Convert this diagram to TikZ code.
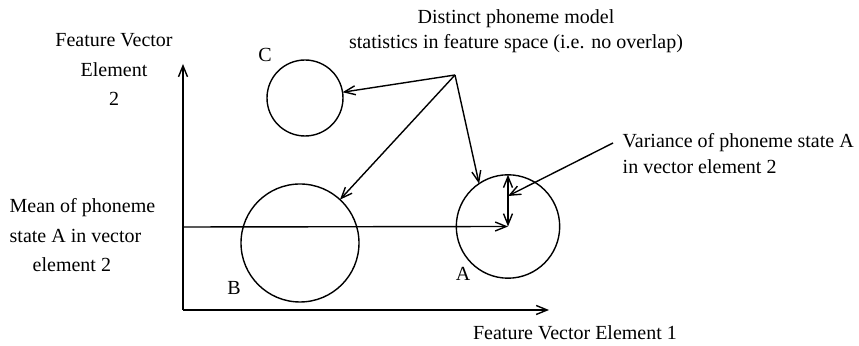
\documentclass[tikz,border=0pt]{standalone}
\usepackage{fontspec}
\setmainfont{Liberation Serif}
\usetikzlibrary{arrows.meta,positioning}

\begin{document}
\begin{tikzpicture}[
    x=0.5pt, y=-0.5pt,
    line width=0.7pt,
    every node/.style={font=\fontsize{10}{14.75}\selectfont},
    model/.style={circle, draw, inner sep=0pt, outer sep=0pt},
    txt/.style={inner sep=0pt},
    tight/.style={font=\fontsize{10}{13}\selectfont},
    arr/.style={-{Straight Barb[length=5.5pt,width=4.5pt]}},
    darr/.style={{Straight Barb[length=5.5pt,width=4.5pt]}-{Straight Barb[length=5.5pt,width=4.5pt]}}
  ]
  \useasboundingbox (0,0) rectangle (859,346);

  %% Axes
  \coordinate (o) at (183,310);
  \coordinate (ytip) at (183,64);
  \coordinate (xtip) at (549,310);
  \draw[arr] (o) -- (ytip);
  \draw[arr] (o) -- (xtip);

  %% Phoneme model circles (minimum size = radius in px)
  \node[model, minimum size=38pt] (C) at (305,98) {};
  \node[model, minimum size=59pt] (B) at (300,243) {};
  \node[model, minimum size=51.7pt] (A) at (508,226.5) {};

  %% Circle letters
  \node[txt] (labC) at (265,55) {C};
  \node[txt] (labB) at (234,288) {B};
  \node[txt] (labA) at (463,274) {A};

  %% Texts (base = last line)
  \node[txt, align=center, anchor=base, font=\fontsize{10}{12.5}\selectfont] (title) at (516,49)
    {Distinct phoneme model\\statistics in feature space (i.e. no overlap)};
  \node[txt, align=center, anchor=base] (ylab) at (114,106)
    {Feature Vector\\Element\\2};
  \node[txt, align=left, anchor=base west] (mean) at (9,272)
    {Mean of phoneme\\state A in vector\\\hspace*{11.5pt}element 2};
  \node[txt, tight, align=left, anchor=base west] (var) at (622,174)
    {Variance of phoneme state A\\in vector element 2};
  \node[txt, anchor=base] (xlab) at (575,340) {Feature Vector Element 1};

  %% Mean and variance of A
  \coordinate (mstart) at (183,227);
  \draw[arr] (mstart) -- (A.center);
  \draw[darr] (A.center) -- (A.north);
  \coordinate (vstart) at (613,143);
  \coordinate (vmid) at (508,196);
  \draw[arr] (vstart) -- (vmid);

  %% Distinct models
  \coordinate (apex) at (455,75);
  \draw[arr] (apex) -- (C);
  \draw[arr] (apex) -- (B);
  \draw[arr] (apex) -- (A.124);

\end{tikzpicture}
\end{document}
